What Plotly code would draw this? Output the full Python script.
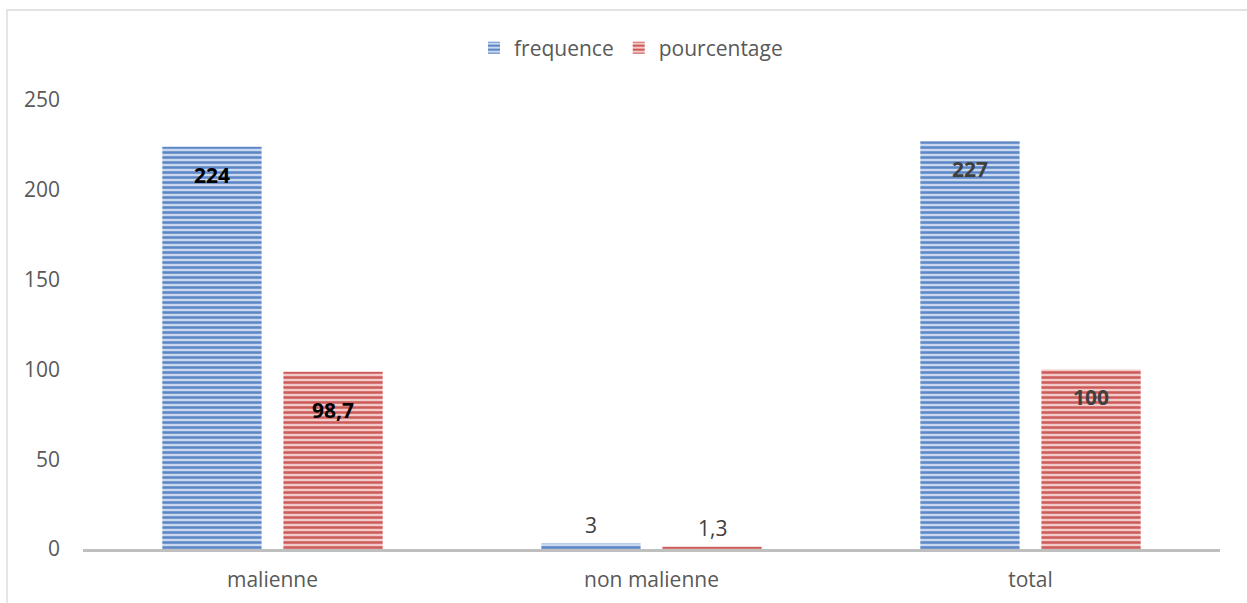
import plotly.graph_objects as go

categories = ["malienne", "non malienne", "total"]
frequence = [224, 3, 227]
pourcentage = [98.7, 1.3, 100]
freq_labels = ["224", "3", "227"]
pct_labels = ["98,7", "1,3", "100"]
y_ticks = [0, 50, 100, 150, 200, 250]

FONT = "'Open Sans', Lato, sans-serif"
FS = 21
W, H = 1247, 603
ML, MR, MT, MB = 83, 27, 100, 54
PW, PH = W - ML - MR, H - MT - MB
BARGAP, GROUPGAP = 0.361, 0.18

def px2paper_x(px):
    return (px - ML) / PW

def px2paper_y(py):
    return (H - MB - py) / PH

fig = go.Figure()
fig.add_trace(go.Bar(
    name="frequence", x=categories, y=frequence,
    marker=dict(color="#C9D8EE", line=dict(width=0),
                pattern=dict(shape="-", fgcolor="#5A86C6", bgcolor="#C9D8EE",
                             size=5, solidity=0.5, fillmode="replace")),
))
fig.add_trace(go.Bar(
    name="pourcentage", x=categories, y=pourcentage,
    marker=dict(color="#F3CACA", line=dict(width=0),
                pattern=dict(shape="-", fgcolor="#CB5A58", bgcolor="#F3CACA",
                             size=5, solidity=0.5, fillmode="replace")),
))

slot = PW / 3 * (1 - BARGAP) / 2
offsets = [-slot / 2, slot / 2]
series = [(frequence, freq_labels), (pourcentage, pct_labels)]
styles = {
    "malienne": dict(bold=True, color="#000000", inside=True),
    "non malienne": dict(bold=False, color="#404040", inside=False),
    "total": dict(bold=True, color="#404040", inside=True),
}
for si, (vals, labs) in enumerate(series):
    for cat, v, lab in zip(categories, vals, labs):
        st = styles[cat]
        text = f"<b>{lab}</b>" if st["bold"] else lab
        ysh = -28 if st["inside"] else 19
        if st["inside"] and si == 1 and cat == "malienne":
            ysh = -38
        fig.add_annotation(
            x=cat, y=v, xref="x", yref="y", text=text, showarrow=False,
            xshift=offsets[si], yshift=ysh,
            font=dict(family=FONT, size=FS, color=st["color"]),
        )

# chart border
fig.add_shape(type="rect", xref="paper", yref="paper",
              x0=px2paper_x(7), x1=px2paper_x(1300),
              y0=px2paper_y(700), y1=px2paper_y(10),
              line=dict(color="#D9D9D9", width=1.3), fillcolor="rgba(0,0,0,0)",
              layer="below")

fig.update_layout(
    width=W, height=H,
    margin=dict(l=ML, r=MR, t=MT, b=MB),
    paper_bgcolor="white", plot_bgcolor="white",
    barmode="group", bargap=BARGAP, bargroupgap=GROUPGAP,
    font=dict(family=FONT, size=FS, color="#595959"),
    legend=dict(orientation="h", x=px2paper_x(631), xanchor="center",
                y=px2paper_y(48), yanchor="middle",
                font=dict(family=FONT, size=FS, color="#595959"),
                itemwidth=30, traceorder="normal"),
    showlegend=True,
    xaxis=dict(showline=True, linecolor="#BFBFBF", linewidth=3, ticks="",
               tickfont=dict(family=FONT, size=FS, color="#595959"),
               ticklabelstandoff=10, automargin=False,
               showgrid=False, zeroline=False),
    yaxis=dict(range=[0, 250], tickvals=y_ticks, ticktext=[str(t) for t in y_ticks],
               showgrid=False, zeroline=False, showline=False, ticks="",
               tickfont=dict(family=FONT, size=FS, color="#595959"),
               ticklabelstandoff=22, automargin=False),
)

fig.write_html("out.html")
